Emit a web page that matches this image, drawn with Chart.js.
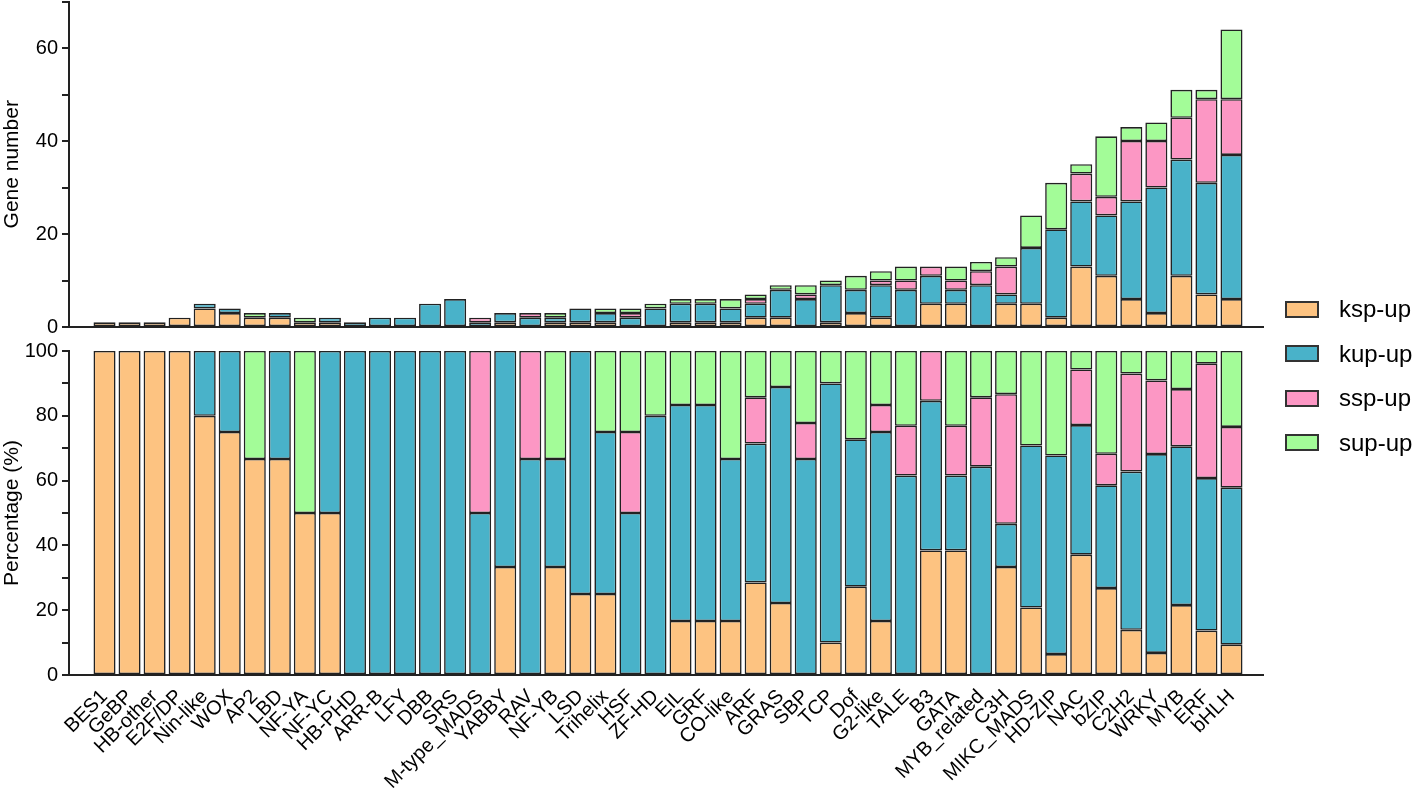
<!DOCTYPE html>
<html>
<head>
<meta charset="utf-8">
<script src="https://cdn.jsdelivr.net/npm/chart.js@4.4.1/dist/chart.umd.min.js"></script>
<style>
html,body{margin:0;padding:0;background:#fff;width:1418px;height:789px;overflow:hidden;font-family:"Liberation Sans",Arial,sans-serif;}
#top{position:absolute;left:0;top:0;}
#bot{position:absolute;left:0;top:340px;}
#legend{position:absolute;left:1285px;top:0;}
.item{position:absolute;left:0;height:30px;display:flex;align-items:center;white-space:nowrap;font-size:24px;color:#000;}
.sw{width:34px;height:17px;box-sizing:border-box;border:2px solid #333;margin-right:20px;}
</style>
</head>
<body>
<canvas id="top" width="1418" height="340"></canvas>
<canvas id="bot" width="1418" height="449"></canvas>
<div id="legend"></div>
<script>
const categories = ["BES1","GeBP","HB-other","E2F/DP","Nin-like","WOX","AP2","LBD","NF-YA","NF-YC",
  "HB-PHD","ARR-B","LFY","DBB","SRS","M-type_MADS","YABBY","RAV","NF-YB","LSD",
  "Trihelix","HSF","ZF-HD","EIL","GRF","CO-like","ARF","GRAS","SBP","TCP",
  "Dof","G2-like","TALE","B3","GATA","MYB_related","C3H","MIKC_MADS","HD-ZIP","NAC",
  "bZIP","C2H2","WRKY","MYB","ERF","bHLH"];
const seriesNames = ["ksp-up","kup-up","ssp-up","sup-up"];
const kspUp = [1,1,1,2,4,3,2,2,1,1, 0,0,0,0,0,0,1,0,1,1, 1,0,0,1,1,1,2,2,0,1, 3,2,0,5,5,0,5,5,2,13, 11,6,3,11,7,6];
const kupUp = [0,0,0,0,1,1,0,1,0,1, 1,2,2,5,6,1,2,2,1,3, 2,2,4,4,4,3,3,6,6,8, 5,7,8,6,3,9,2,12,19,14, 13,21,27,25,24,31];
const sspUp = [0,0,0,0,0,0,0,0,0,0, 0,0,0,0,0,1,0,1,0,0, 0,1,0,0,0,0,1,0,1,0, 0,1,2,2,2,3,6,0,0,6, 4,13,10,9,18,12];
const supUp = [0,0,0,0,0,0,1,0,1,0, 0,0,0,0,0,0,0,0,1,0, 1,1,1,1,1,2,1,1,2,1, 3,2,3,0,3,2,2,7,10,2, 13,3,4,6,2,15];
const countTicks = [0,20,40,60];
const pctTicks = [0,20,40,60,80,100];
const colors = ["#FDC381","#49B2C9","#FC97C4","#A3FC98"];

const seriesCounts = [kspUp,kupUp,sspUp,supUp];
const totals = categories.map((_, i) => seriesCounts.reduce((s, a) => s + a[i], 0));
const seriesPct = seriesCounts.map(a => a.map((v, i) => totals[i] ? v / totals[i] * 100 : 0));

const FONT = "'Liberation Sans', Arial, sans-serif";
Chart.defaults.font.family = FONT;
Chart.defaults.color = "#000";

function makeDatasets(arrs) {
  return arrs.map((arr, k) => ({
    label: seriesNames[k],
    data: arr.map((v, i) => ({x: i, y: v})).filter(p => p.y > 0),
    backgroundColor: colors[k],
    borderColor: "#222",
    borderWidth: 1.6,
    borderSkipped: false,
    barPercentage: 0.88,
    categoryPercentage: 1.0
  }));
}

function xScale(showLabels, height) {
  return {
    type: "linear", stacked: true, min: -0.9, max: 45.74,
    afterBuildTicks: s => { s.ticks = categories.map((_, i) => ({value: i})); },
    afterFit: s => { s.height = height; s.paddingLeft = 0; s.paddingRight = 0; },
    grid: {display: false},
    border: {display: true, color: "#222", width: 2},
    ticks: {
      display: showLabels, autoSkip: false, minRotation: 45, maxRotation: 45,
      padding: 2, font: {size: 20}, color: "#000",
      callback: v => categories[v] !== undefined ? categories[v] : ""
    }
  };
}

function yScale(max, labelled, title) {
  return {
    stacked: true, min: 0, max: max,
    afterBuildTicks: s => {
      const t = [];
      for (let v = 0; v <= max; v += 10) t.push({value: v});
      s.ticks = t;
    },
    afterFit: s => { s.width = 69; s.paddingTop = 0; s.paddingBottom = 0; },
    grid: {drawOnChartArea: false, drawTicks: true, tickLength: 7, color: "#222", lineWidth: 2},
    border: {display: true, color: "#222", width: 2},
    ticks: {
      padding: 4, font: {size: 20}, color: "#000",
      callback: v => labelled.includes(v) ? String(v) : ""
    },
    title: {display: true, text: title, font: {size: 21}, color: "#000", padding: {top: 0, bottom: 2}}
  };
}

new Chart(document.getElementById("top"), {
  type: "bar",
  data: {datasets: makeDatasets(seriesCounts)},
  options: {
    responsive: false, animation: false, devicePixelRatio: 1,
    layout: {padding: {top: 1.5, right: 155, left: 0, bottom: 0}},
    plugins: {legend: {display: false}, tooltip: {enabled: false}},
    scales: {x: xScale(false, 13), y: yScale(70, countTicks, "Gene number")}
  }
});

new Chart(document.getElementById("bot"), {
  type: "bar",
  data: {datasets: makeDatasets(seriesPct)},
  options: {
    responsive: false, animation: false, devicePixelRatio: 1,
    layout: {padding: {top: 11, right: 155, left: 0, bottom: 0}},
    plugins: {legend: {display: false}, tooltip: {enabled: false}},
    scales: {x: xScale(true, 114), y: yScale(100, pctTicks, "Percentage (%)")}
  }
});

const legend = document.getElementById("legend");
const centers = [309, 353.5, 398, 442.5];
seriesNames.forEach((n, k) => {
  const d = document.createElement("div");
  d.className = "item";
  d.style.top = (centers[k] - 15) + "px";
  d.innerHTML = '<span class="sw" style="background:' + colors[k] + '"></span><span>' + n + '</span>';
  legend.appendChild(d);
});
</script>
</body>
</html>
